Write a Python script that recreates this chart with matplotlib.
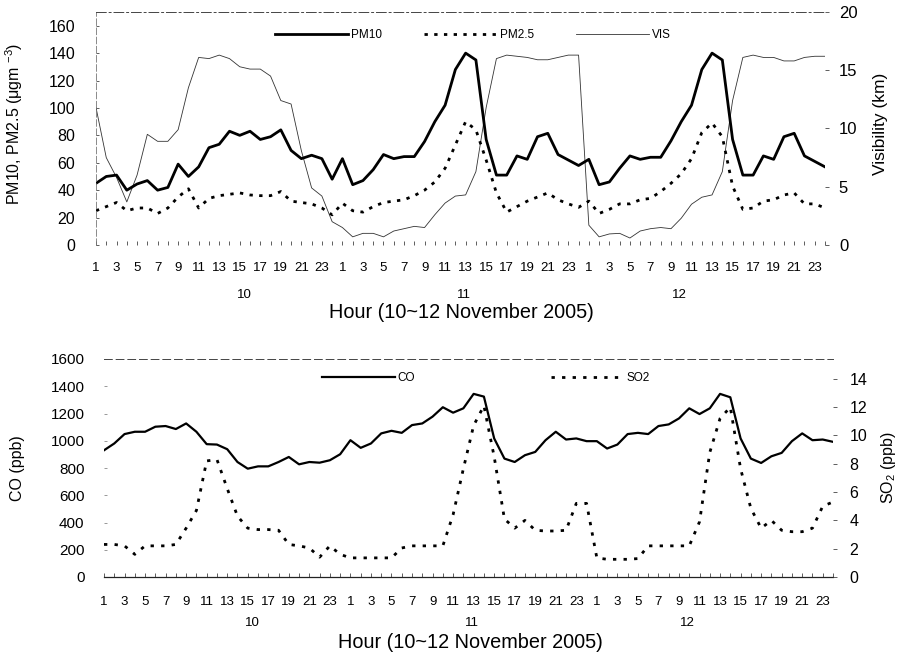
import matplotlib
matplotlib.use("Agg")
import matplotlib.pyplot as plt
import matplotlib.transforms as mtransforms

plt.rcParams['font.family'] = ['Liberation Sans', 'DejaVu Sans']
plt.rcParams['mathtext.fontset'] = 'custom'
plt.rcParams['mathtext.rm'] = 'Liberation Sans'
plt.rcParams['mathtext.it'] = 'Liberation Sans:italic'

# ---------------- data ----------------
hour_labels = ['1', '3', '5', '7', '9', '11', '13', '15', '17', '19', '21', '23']
day_labels = ['10', '11', '12']

pm10 = [45, 50, 51, 40, 44.5, 47, 40, 42, 59, 50, 57, 71, 73.5, 83, 80, 83, 77, 79, 84, 69, 63, 65.5, 63, 48,
        63, 44, 47, 55, 66, 63, 64.5, 64.5, 75.5, 90, 102, 128, 140, 135, 77, 51, 51, 65, 62.5, 79, 81.5, 66, 62, 58,
        62.5, 44, 46, 56, 65, 62.5, 64, 64, 76, 90, 102, 128, 140, 135, 77, 51, 51, 65, 62.5, 79, 81.5, 65, 61, 57]
pm25 = [25, 28, 31, 25, 27, 27, 23, 27, 35, 41, 27, 34, 36, 37, 38, 36.5, 36, 36, 39, 32, 31, 30, 27, 22,
        30.5, 25, 24, 28, 31, 32, 33, 36, 40, 46, 56, 73, 90, 84, 62, 38, 24, 28, 32, 35, 38, 33, 30, 27.5,
        32, 23, 26, 30, 30, 33, 34, 39, 45, 52, 63, 82, 89, 79, 43, 26, 27, 32, 33, 36.5, 38, 30, 30, 27]
vis = [11.8, 7.5, 5.8, 3.7, 6.0, 9.5, 8.9, 8.9, 9.9, 13.5, 16.1, 16.0, 16.3, 16.0, 15.3, 15.1, 15.1, 14.5, 12.4, 12.1, 8.1, 4.9, 4.2, 2.0,
       1.5, 0.7, 1.0, 1.0, 0.7, 1.2, 1.4, 1.6, 1.5, 2.6, 3.6, 4.2, 4.3, 6.3, 11.8, 16.0, 16.3, 16.2, 16.1, 15.9, 15.9, 16.1, 16.3, 16.3,
       1.7, 0.7, 0.95, 1.0, 0.6, 1.2, 1.4, 1.5, 1.4, 2.3, 3.5, 4.1, 4.3, 6.3, 12.4, 16.1, 16.3, 16.1, 16.1, 15.8, 15.8, 16.1, 16.2, 16.2]

co = [930, 980, 1049, 1066, 1066, 1103, 1108, 1086, 1127, 1066, 975, 972, 938, 844, 795, 812, 812, 844, 881, 827, 844, 839, 857, 901,
      1004, 948, 980, 1054, 1073, 1058, 1115, 1127, 1177, 1246, 1206, 1238, 1344, 1324, 1017, 869, 844, 894, 918, 1004, 1066, 1009, 1017, 997,
      997, 943, 972, 1049, 1058, 1049, 1108, 1120, 1164, 1238, 1196, 1238, 1344, 1319, 1017, 869, 837, 886, 911, 997, 1054, 1004, 1009, 992]
so2 = [2.3, 2.3, 2.2, 1.6, 2.2, 2.2, 2.2, 2.3, 3.45, 4.7, 8.2, 8.3, 6.25, 4.3, 3.45, 3.35, 3.35, 3.3, 2.3, 2.2, 2.05, 1.4, 2.2, 1.6,
       1.35, 1.35, 1.35, 1.35, 1.35, 2.05, 2.2, 2.2, 2.2, 2.2, 4.4, 7.65, 10.7, 12.1, 8.5, 4.1, 3.45, 4.0, 3.3, 3.25, 3.25, 3.3, 5.2, 5.2,
       1.35, 1.25, 1.25, 1.25, 1.3, 2.2, 2.2, 2.2, 2.2, 2.2, 3.9, 8.8, 11.2, 12.0, 7.65, 4.85, 3.45, 4.0, 3.3, 3.2, 3.2, 3.45, 5.0, 5.3]

x = list(range(len(pm10)))
DAY_LABEL_X = [14.5, 35.8, 56.8]

W, H = 901, 652
fig = plt.figure(figsize=(W / 100, H / 100), dpi=100)

def frac_axes(left, top, right, bottom):
    return fig.add_axes([left / W, 1 - bottom / H, (right - left) / W, (bottom - top) / H])

spine_col = '#444444'

def style_xaxis(ax, pad):
    ax.set_xlim(0, 71)
    ax.set_xticks(x[::2])
    ax.set_xticklabels(hour_labels * 3, fontsize=9.5)
    ax.set_xticks(x, minor=True)
    ax.tick_params(axis='x', which='both', direction='in', length=3, width=0.6, color=spine_col, pad=pad)
    return mtransforms.blended_transform_factory(ax.transData, ax.transAxes)

# ---------------- top panel ----------------
ax1 = frac_axes(96, 12, 825, 245)
ax1r = ax1.twinx()
l_vis, = ax1r.plot(x, vis, color='#333333', lw=0.6, label='VIS')
l_pm10, = ax1.plot(x, pm10, color='black', lw=2.0, label='PM10')
l_pm25, = ax1.plot(x, pm25, color='black', lw=2.0, ls=(0, (1.2, 2.3)), label='PM2.5')
ax1.set_zorder(ax1r.get_zorder() + 1)
ax1.patch.set_visible(False)

ax1.set_ylim(0, 170)
ax1.set_yticks(range(0, 161, 20))
ax1.tick_params(axis='y', direction='in', length=2, width=0.6, color=spine_col, labelsize=11.5, pad=15)
ax1r.set_ylim(0, 20)
ax1r.set_yticks(range(0, 21, 5))
ax1r.tick_params(axis='y', direction='out', length=3, width=0.6, color=spine_col, labelsize=12, pad=7)
trans1 = style_xaxis(ax1, 12)
for a in (ax1, ax1r):
    a.spines['bottom'].set_visible(False)
    a.spines['right'].set_visible(False)
    a.spines['top'].set_color(spine_col)
    a.spines['top'].set_linewidth(0.7)
    a.spines['top'].set_linestyle((0, (10, 3, 2, 3)))
    a.spines['left'].set_color('#777777')
    a.spines['left'].set_linewidth(0.6)
    a.spines['left'].set_linestyle((0, (8, 3)))
ax1r.spines['left'].set_visible(False)
ax1r.spines['top'].set_visible(False)

for dx, dl in zip(DAY_LABEL_X, day_labels):
    ax1.text(dx, -0.215, dl, transform=trans1, ha='center', va='center', fontsize=9.5)
ax1.set_ylabel('PM10, PM2.5 (μgm $^{-3}$)', fontsize=11.5)
ax1.yaxis.set_label_coords(-0.097, 0.52)
ax1r.set_ylabel('Visibility (km)', fontsize=12.5, rotation=90)
ax1r.yaxis.set_label_coords(1.066, 0.52)
fig.text(461 / W, 1 - 313 / H, 'Hour (10~12 November 2005)', ha='center', va='center', fontsize=14.3)

ax1.legend(handles=[l_pm10, l_pm25, l_vis], loc='center left', bbox_to_anchor=(0.2455, 0.901),
           ncol=3, frameon=False, fontsize=8.5, handlelength=6.2, handletextpad=0.2,
           columnspacing=3.6, borderpad=0, borderaxespad=0)

# ---------------- bottom panel ----------------
ax2 = frac_axes(104, 359, 833, 577)
ax2r = ax2.twinx()
l_co, = ax2.plot(x, co, color='black', lw=1.6, label='CO')
l_so2, = ax2r.plot(x, so2, color='black', lw=2.0, ls=(0, (1.2, 2.6)), label='SO2')

ax2.set_ylim(0, 1600)
ax2.set_yticks(range(0, 1601, 200))
ax2.tick_params(axis='y', direction='in', length=2, width=0.6, color='#888888', labelsize=11, pad=14)
ax2r.set_ylim(0, 15.4)
ax2r.set_yticks(range(0, 15, 2))
ax2r.tick_params(axis='y', direction='out', length=3, width=0.6, color=spine_col, labelsize=11.5, pad=9)
trans2 = style_xaxis(ax2, 14)
for a in (ax2, ax2r):
    a.spines['right'].set_visible(False)
    a.spines['left'].set_visible(False)
    a.spines['top'].set_color(spine_col)
    a.spines['top'].set_linewidth(0.7)
    a.spines['top'].set_linestyle((0, (8, 4)))
    a.spines['bottom'].set_color('#222222')
    a.spines['bottom'].set_linewidth(0.9)
ax2r.spines['top'].set_visible(False)
ax2r.spines['bottom'].set_visible(False)

for dx, dl in zip(DAY_LABEL_X, day_labels):
    ax2.text(dx, -0.211, dl, transform=trans2, ha='center', va='center', fontsize=9.5)
ax2.set_ylabel('CO (ppb)', fontsize=11.5)
ax2.yaxis.set_label_coords(-0.108, 0.5)
ax2r.set_ylabel('SO$_2$ (ppb)', fontsize=11.5, rotation=90)
ax2r.yaxis.set_label_coords(1.063, 0.5)
fig.text(470 / W, 1 - 643 / H, 'Hour (10~12 November 2005)', ha='center', va='center', fontsize=14.3)

ax2.legend(handles=[l_co, l_so2], loc='center left', bbox_to_anchor=(0.299, 0.913),
           ncol=2, frameon=False, fontsize=8.5, handlelength=6.2, handletextpad=0.2,
           columnspacing=11.5, borderpad=0, borderaxespad=0)

fig.savefig('out.png', dpi=100)
